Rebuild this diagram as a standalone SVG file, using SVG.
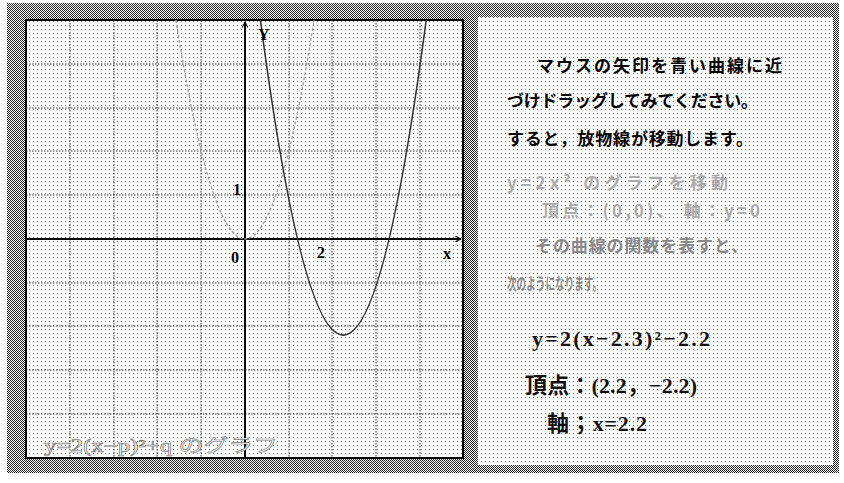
<svg xmlns="http://www.w3.org/2000/svg" width="844" height="483" viewBox="0 0 844 483">
<defs>
<pattern id="dither" patternUnits="userSpaceOnUse" width="2" height="2"><rect width="2" height="2" fill="#fff"/><rect x="0" y="0" width="1" height="1" fill="#222"/><rect x="1" y="1" width="1" height="1" fill="#222"/></pattern>
<pattern id="dots" patternUnits="userSpaceOnUse" width="4" height="4"><rect width="4" height="4" fill="#fff"/><rect x="1" y="1" width="1" height="1" fill="#777"/></pattern>
<marker id="arr" viewBox="0 0 10 10" refX="9" refY="5" markerWidth="7" markerHeight="7" orient="auto" markerUnits="userSpaceOnUse"><path d="M1,1 L9,5 L1,9" fill="none" stroke="#000" stroke-width="1.5"/></marker>
<style>
.grid{stroke:#333;stroke-width:1;stroke-dasharray:1.5 1.5;fill:none}
.axis{stroke:#000;stroke-width:2;fill:none}
.lbl{font-family:"Liberation Serif","Noto Sans CJK JP",serif;font-weight:bold;font-size:16px;fill:#000}
.jp{font-family:"Noto Sans CJK JP","Noto Sans CJK SC",sans-serif;font-weight:bold;font-size:17px;fill:#000}
.faint{font-family:"Noto Sans CJK JP","Noto Sans CJK SC",sans-serif;font-weight:bold;font-size:17px;fill:#aaa}
.faint2{font-family:"Noto Sans CJK JP","Noto Sans CJK SC",sans-serif;font-weight:bold;font-size:17px;fill:#888}
.math{font-family:"Liberation Serif","Noto Sans CJK JP",serif;font-weight:bold;font-size:22px;fill:#111}
</style>
</defs>
<rect width="844" height="483" fill="#fff"/>
<rect id="frame" x="7" y="3" width="832" height="470" fill="url(#dither)"/>

<g id="graph">
<rect x="26" y="20" width="437" height="438" fill="url(#dots)" stroke="#000" stroke-width="2"/>
<g id="gridlines">
<path class="grid" d="M70,20V458M114,20V458M157,20V458M201,20V458M289,20V458M332,20V458M376,20V458M420,20V458"/>
<path class="grid" d="M26,64H463M26,108H463M26,151H463M26,195H463M26,283H463M26,326H463M26,370H463M26,414H463"/>
</g>
<g id="axes">
<path class="axis" d="M245,458V22" marker-end="url(#arr)"/>
<path class="axis" d="M26,239H461" marker-end="url(#arr)"/>
</g>
<g id="curves">
<path d="M175.9,20 Q245,458 314.1,20" fill="none" stroke="#999" stroke-width="1.3" stroke-dasharray="3 2"/>
<path d="M260.4,20 Q343.3,650.2 426.2,20" fill="none" stroke="#333" stroke-width="1.6"/>
</g>
<g id="labels">
<text class="lbl" x="258" y="40">Y</text>
<text class="lbl" x="443" y="259">x</text>
<text class="lbl" x="231" y="263">0</text>
<text class="lbl" x="233" y="195">1</text>
<text class="lbl" x="317" y="258">2</text>
<text x="44" y="452" font-family="Liberation Serif,'Noto Sans CJK JP',serif" font-size="18" fill="#fff" stroke="#777" stroke-width="0.6" textLength="234" lengthAdjust="spacingAndGlyphs">y=2(x−p)²+q のグラフ</text>
</g>
</g>

<g id="panel">
<rect x="478" y="17" width="355" height="448" fill="url(#dots)"/>
<text class="jp" x="537" y="72" textLength="245">マウスの矢印を青い曲線に近</text>
<text class="jp" x="507" y="107" textLength="251">づけドラッグしてみてください。</text>
<text class="jp" x="507" y="145" textLength="246">すると，放物線が移動します。</text>
<text class="faint" x="507" y="189" textLength="221">y=2x² のグラフを移動</text>
<text class="faint" x="542" y="217" textLength="218">頂点：(0,0)、 軸：y=0</text>
<text class="faint2" x="535" y="252" textLength="213">その曲線の関数を表すと、</text>
<text class="faint2" x="507" y="290" textLength="95" lengthAdjust="spacingAndGlyphs">次のようになります。</text>
<text class="math" x="532" y="346" textLength="178">y=2(x−2.3)²−2.2</text>
<text class="math" x="525" y="393" textLength="172">頂点：(2.2，−2.2)</text>
<text class="math" x="547" y="431" textLength="100">軸；x=2.2</text>
</g>
</svg>
